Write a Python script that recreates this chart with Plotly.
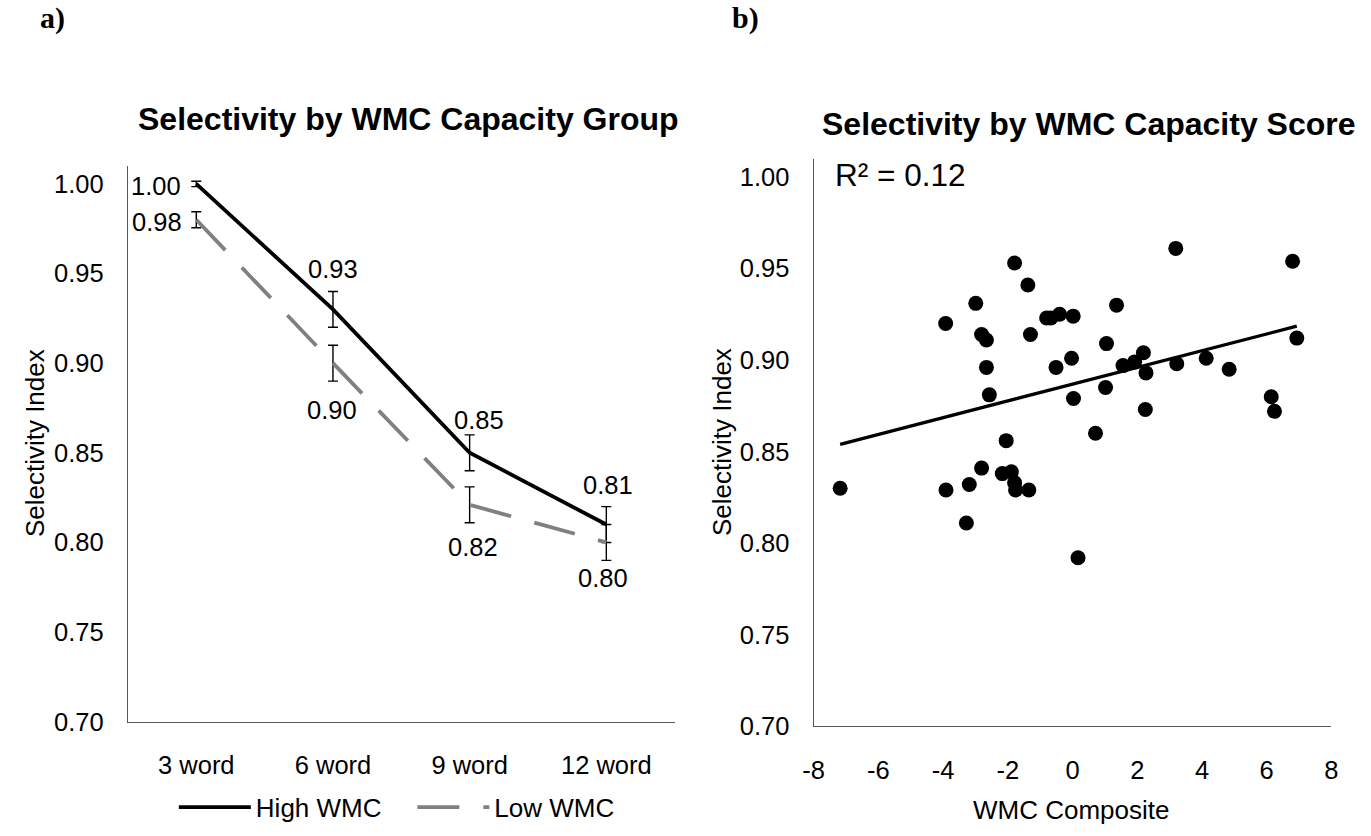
import plotly.graph_objects as go

# ---------------- data ----------------
categories = ["3 word", "6 word", "9 word", "12 word"]
high_wmc = [1.000, 0.930, 0.850, 0.810]
low_wmc = [0.980, 0.900, 0.821, 0.800]
high_err = [0.0015, 0.010, 0.010, 0.010]
low_err = [0.0045, 0.010, 0.010, 0.010]

wmc_composite = [-1.79, -1.38, -2.99, -3.92, -2.81, -2.66, -1.30, -0.80, -0.67, -0.40,
                 0.02, -2.66, -0.51, -0.03, -2.57, 0.03, -2.05, -7.18, -3.91, -3.19,
                 -2.81, -2.17, -1.89, -1.79, -1.76, -1.35, -3.28, 0.17, 3.19, 6.80,
                 1.36, 1.05, 2.19, 1.56, 1.92, 2.27, 3.22, 4.13, 4.84, 6.93,
                 1.02, 6.14, 6.24, 2.25, 0.71]
selectivity = [0.953, 0.941, 0.931, 0.920, 0.914, 0.911, 0.914, 0.923, 0.923, 0.925,
               0.924, 0.896, 0.896, 0.901, 0.881, 0.879, 0.856, 0.830, 0.829, 0.832,
               0.841, 0.838, 0.839, 0.833, 0.829, 0.829, 0.811, 0.792, 0.961, 0.954,
               0.930, 0.909, 0.904, 0.897, 0.899, 0.893, 0.898, 0.901, 0.895, 0.912,
               0.885, 0.880, 0.872, 0.873, 0.860]
trend_x = [-7.18, 6.93]
trend_y = [0.854, 0.9185]
r_squared = 0.12

y_ticks = [0.70, 0.75, 0.80, 0.85, 0.90, 0.95, 1.00]
x2_ticks = [-8, -6, -4, -2, 0, 2, 4, 6, 8]
x2_tick_labels = ["-8", "-6", "-4", "-2", "0", "2", "4", "6", "8"]

# ---------------- layout constants ----------------
W, H = 1371, 836
FONT = "Liberation Sans, Arial, sans-serif"
SERIF = "Liberation Serif, Times New Roman, serif"
AXIS_COLOR = "#595959"
TXT = 25.5


def px_x(p):
    return p / W


def px_y(p):
    return 1 - p / H


fig = go.Figure()

fig.add_trace(go.Scatter(
    x=categories, y=high_wmc, mode="lines", name="High WMC",
    line=dict(color="black", width=3.8),
    error_y=dict(type="data", array=high_err, color="black", thickness=1.4, width=5),
    xaxis="x", yaxis="y", legend="legend"))
fig.add_trace(go.Scatter(
    x=categories, y=low_wmc, mode="lines", name="Low WMC",
    line=dict(color="#808080", width=3.8, dash="42px,24px"),
    error_y=dict(type="data", array=low_err, color="black", thickness=1.4, width=5),
    xaxis="x", yaxis="y", legend="legend2"))

fig.add_trace(go.Scatter(
    x=wmc_composite, y=selectivity, mode="markers", showlegend=False,
    marker=dict(color="black", size=15),
    xaxis="x2", yaxis="y2"))
fig.add_trace(go.Scatter(
    x=trend_x, y=trend_y, mode="lines", showlegend=False,
    line=dict(color="black", width=3.3),
    xaxis="x2", yaxis="y2"))

annotations = []
# data labels, left chart (pixel offsets from each point)
label_shift = {
    "High WMC": [(-40, -2), (0, 40), (9, 33), (2, 40)],
    "Low WMC": [(-39, -2), (-1, -47), (3, -42), (-3, -36)],
}
for name, vals in (("High WMC", high_wmc), ("Low WMC", low_wmc)):
    for i, (c, v) in enumerate(zip(categories, vals)):
        dx, dy = label_shift[name][i]
        annotations.append(dict(
            x=c, y=v, xref="x", yref="y", text=f"{v:.2f}", showarrow=False,
            xshift=dx, yshift=dy, font=dict(family=FONT, size=TXT, color="black")))

annotations += [
    dict(text="<b>Selectivity by WMC Capacity Group</b>", x=px_x(403), y=px_y(121),
         xref="paper", yref="paper", showarrow=False, xanchor="center", yanchor="middle",
         font=dict(family=FONT, size=32, color="black")),
    dict(text="<b>Selectivity by WMC Capacity Score</b>", x=px_x(1092), y=px_y(126),
         xref="paper", yref="paper", showarrow=False, xanchor="center", yanchor="middle",
         font=dict(family=FONT, size=32, color="black")),
    dict(text="<b>a)</b>", x=px_x(42), y=px_y(18), xref="paper", yref="paper",
         showarrow=False, xanchor="center", yanchor="middle",
         font=dict(family=SERIF, size=30, color="black")),
    dict(text="<b>b)</b>", x=px_x(744), y=px_y(18), xref="paper", yref="paper",
         showarrow=False, xanchor="center", yanchor="middle",
         font=dict(family=SERIF, size=30, color="black")),
    dict(text="Selectivity Index", x=px_x(25), y=px_y(451), xref="paper", yref="paper",
         showarrow=False, textangle=-90, xanchor="center", yanchor="middle",
         font=dict(family=FONT, size=26, color="black")),
    dict(text="Selectivity Index", x=px_x(721), y=px_y(450), xref="paper", yref="paper",
         showarrow=False, textangle=-90, xanchor="center", yanchor="middle",
         font=dict(family=FONT, size=26, color="black")),
    dict(text="WMC Composite", x=px_x(1074), y=px_y(824), xref="paper", yref="paper",
         showarrow=False, xanchor="center", yanchor="middle",
         font=dict(family=FONT, size=26, color="black")),
    dict(text=f"R² = {r_squared:.2f}", x=px_x(833), y=px_y(178), xref="paper", yref="paper",
         showarrow=False, xanchor="left", yanchor="middle",
         font=dict(family=FONT, size=31.5, color="black")),
]

axis_common = dict(showline=True, linecolor=AXIS_COLOR, linewidth=1.3, showgrid=False,
                   zeroline=False, ticks="", tickfont=dict(family=FONT, size=TXT, color="black"))

fig.update_layout(
    width=W, height=H, margin=dict(l=0, r=0, t=0, b=0),
    paper_bgcolor="white", plot_bgcolor="white",
    xaxis=dict(domain=[px_x(118.5), px_x(672.5)], type="category", range=[-0.5, 3.5],
               anchor="y", ticklabelstandoff=21, **axis_common),
    yaxis=dict(domain=[px_y(734), px_y(168.8)], range=[0.70, 1.01], tickvals=y_ticks,
               tickformat=".2f", anchor="x", ticklabelstandoff=18, **axis_common),
    xaxis2=dict(domain=[px_x(813.3), px_x(1338)], range=[-8, 8], tickvals=x2_ticks,
                ticktext=x2_tick_labels, anchor="y2", ticklabelstandoff=21, **axis_common),
    yaxis2=dict(domain=[px_y(738.6), px_y(161.4)], range=[0.70, 1.01], tickvals=y_ticks,
                tickformat=".2f", anchor="x2", ticklabelstandoff=18, **axis_common),
    legend=dict(x=px_x(165), y=px_y(821), xanchor="left", yanchor="middle",
                orientation="h", itemwidth=72, bgcolor="rgba(0,0,0,0)",
                font=dict(family=FONT, size=26, color="black")),
    legend2=dict(x=px_x(406.7), y=px_y(821), xanchor="left", yanchor="middle",
                 orientation="h", itemwidth=72, bgcolor="rgba(0,0,0,0)",
                 font=dict(family=FONT, size=26, color="black")),
    annotations=annotations,
    showlegend=True,
)

fig.write_html(
    "out.html",
    config={"displayModeBar": False},
    post_script="document.body.style.margin='0';document.body.style.padding='0';"
                "document.documentElement.style.overflow='hidden';",
)
